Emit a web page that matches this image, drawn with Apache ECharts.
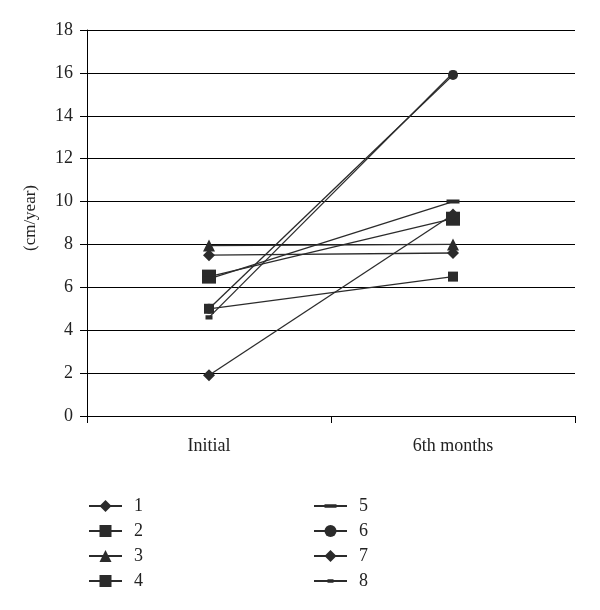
<!DOCTYPE html>
<html><head><meta charset="utf-8">
<script src="https://cdn.jsdelivr.net/npm/echarts@6/dist/echarts.min.js"></script>
<style>html,body{margin:0;padding:0;background:#fff}#c{width:600px;height:610px}</style>
</head><body><div id="c"></div>
<script>
const categories = ["Initial", "6th months"];
const seriesNames = ["1","2","3","4","5","6","7","8"];
const s1 = [7.5, 7.6];
const s2 = [5.0, 6.5];
const s3 = [7.95, 8.0];
const s4 = [6.5, 9.2];
const s5 = [6.4, 10.0];
const s6 = [5.0, 15.9];
const s7 = [1.9, 9.4];
const s8 = [4.6, 16.0];
const yTicks = [0,2,4,6,8,10,12,14,16,18];

const values = [s1,s2,s3,s4,s5,s6,s7,s8];
// flat dashes inside a square bounding box (degenerate corner subpaths keep the box square)
const longDash = 'path://M0,0L0.01,0L0,0.01Z M0,4.2L12,4.2L12,7.8L0,7.8Z M12,12L11.99,12L12,11.99Z';
const shortDash = 'path://M0,0L0.01,0L0,0.01Z M3,4.2L9,4.2L9,7.8L3,7.8Z M12,12L11.99,12L12,11.99Z';
const symbols = ['diamond','rect','triangle','rect',longDash,'circle','diamond',shortDash];
const sizes = [12,10,12,14,13,10,12,14];
const ink = '#2b2b2b';
const font = 'Liberation Serif';

const series = values.map((v,i)=>({
  name: seriesNames[i], type:'line', data:v,
  symbol: symbols[i], symbolSize: sizes[i], showSymbol:true,
  lineStyle:{color:ink,width:1.3}, itemStyle:{color:ink},
  emphasis:{disabled:true}, z: 3
}));

const legendCommon = {orient:'vertical',top:492,itemGap:7,itemWidth:33,itemHeight:15,
  textStyle:{color:'#222',fontFamily:font,fontSize:18,padding:[0,0,0,7]},selectedMode:false};

const chart = echarts.init(document.getElementById('c'), null, {renderer:'canvas'});
chart.setOption({
  animation:false,
  backgroundColor:'#fff',
  grid:{left:87,right:25,top:30,bottom:194},
  xAxis:{type:'category',data:categories,boundaryGap:true,
    axisLine:{lineStyle:{color:'#000',width:1}},
    axisTick:{show:true,length:7,inside:false,lineStyle:{color:'#000'}},
    axisLabel:{color:'#222',fontFamily:font,fontSize:18,margin:21},
    splitLine:{show:false}},
  yAxis:{type:'value',min:yTicks[0],max:yTicks[yTicks.length-1],interval:2,
    name:'(cm/year)',nameLocation:'middle',nameRotate:90,nameGap:48,
    nameTextStyle:{color:'#222',fontFamily:font,fontSize:17,padding:[0,0,0,10]},
    axisLine:{show:true,lineStyle:{color:'#000',width:1}},
    axisTick:{show:true,length:7,lineStyle:{color:'#000'}},
    axisLabel:{color:'#222',fontFamily:font,fontSize:18,margin:14},
    splitLine:{show:true,lineStyle:{color:'#000',width:1}}},
  legend:[
    Object.assign({data:seriesNames.slice(0,4),left:83}, legendCommon),
    Object.assign({data:seriesNames.slice(4),left:308}, legendCommon)
  ],
  series: series
});
</script></body></html>
